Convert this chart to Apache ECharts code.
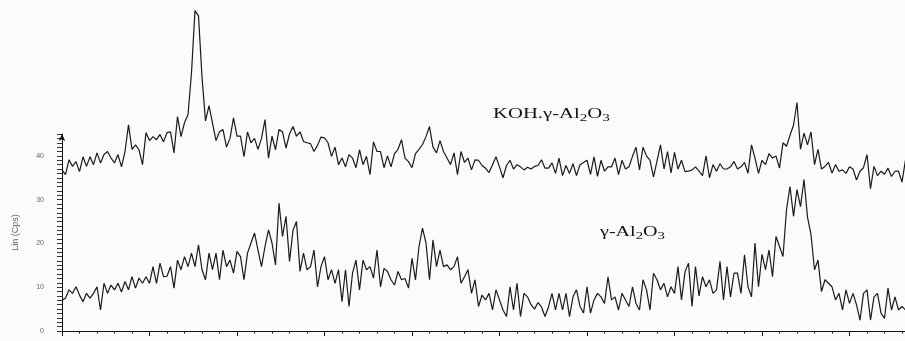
<!DOCTYPE html>
<html>
<head>
<meta charset="utf-8">
<title>XRD KOH.γ-Al2O3 / γ-Al2O3</title>
<script src="https://cdn.jsdelivr.net/npm/echarts/dist/echarts.min.js"></script>
<style>
  html, body { margin: 0; padding: 0; background: #fbfbfb; }
  #chart { width: 905px; height: 341px; }
</style>
</head>
<body>
<div id="chart"></div>
<script>
// 扫描参数: 2θ 起点与步长
const scanStart = 10
const scanStep = 0.2

// KOH.γ-Al2O3 强度 (Cps)
const kohAl2O3 = [
  36.8, 35.7, 39.1, 37.6, 38.7, 36.4, 39.8, 37.6, 39.8, 38.0,
  40.7, 38.4, 40.3, 41.0, 39.5, 38.4, 40.3, 37.5, 41.0, 47.1,
  41.5, 42.5, 41.4, 38.0, 45.3, 43.5, 44.4, 43.7, 44.9, 43.2,
  45.3, 45.5, 40.7, 49.0, 44.4, 47.6, 49.4, 59.0, 73.2, 72.0,
  58.0, 48.0, 51.5, 47.5, 43.5, 45.5, 46.0, 42.0, 44.0, 48.7,
  44.5, 44.5, 39.8, 45.5, 43.0, 44.0, 41.5, 44.0, 48.3, 39.5,
  44.5, 41.4, 46.0, 45.5, 41.8, 45.0, 46.7, 44.5, 45.5, 43.3,
  43.0, 42.8, 41.0, 42.4, 44.3, 44.1, 43.0, 39.9, 42.0, 38.0,
  39.5, 37.5, 40.3, 39.5, 37.3, 41.4, 38.0, 39.9, 35.7, 43.2,
  41.0, 41.0, 37.3, 40.0, 37.5, 40.5, 41.5, 43.7, 39.5, 38.7,
  37.3, 40.5, 41.5, 42.6, 44.4, 46.7, 42.0, 40.7, 43.5, 41.0,
  39.5, 38.0, 40.7, 35.7, 41.0, 38.5, 39.5, 36.8, 39.1, 39.0,
  37.8, 37.2, 36.2, 38.0, 39.8, 37.5, 35.0, 37.8, 39.0, 37.0,
  38.0, 37.5, 36.8, 37.4, 37.0, 37.6, 37.8, 39.1, 37.2, 37.2,
  38.4, 36.0, 39.5, 35.5, 37.8, 36.0, 38.2, 35.5, 38.0, 38.5,
  39.0, 35.8, 39.8, 35.3, 39.0, 36.5, 37.5, 37.5, 39.5, 35.7,
  39.0, 37.0, 37.5, 39.9, 42.0, 36.8, 42.0, 40.0, 39.0, 35.2,
  38.8, 42.5, 37.0, 41.0, 36.1, 40.8, 37.0, 39.0, 36.4, 36.5,
  36.8, 37.5, 36.5, 35.5, 40.0, 35.0, 38.0, 36.5, 38.2, 37.0,
  37.0, 37.5, 38.7, 37.0, 37.5, 38.5, 36.0, 42.5, 39.5, 36.0,
  39.0, 38.0, 40.5, 39.5, 40.0, 37.2, 43.0, 42.2, 44.7, 47.0,
  52.2, 41.5, 45.2, 42.5, 45.5, 38.0, 41.5, 37.0, 37.6, 38.5,
  36.1, 38.0, 36.5, 36.8, 36.0, 37.5, 37.0, 34.5, 36.5, 37.3,
  40.3, 32.5, 37.6, 35.5, 36.5, 35.8, 37.2, 35.3, 36.5, 36.5,
  34.0, 39.1
]

// γ-Al2O3 强度 (Cps)
const gammaAl2O3 = [
  7.0, 7.5, 9.4, 8.6, 10.1, 8.2, 6.7, 8.6, 7.5, 8.6,
  10.1, 4.8, 10.9, 8.6, 10.5, 9.4, 10.9, 8.9, 11.3, 9.4,
  12.4, 9.8, 12.1, 10.9, 12.4, 10.9, 14.7, 10.9, 15.5, 12.4,
  12.5, 14.7, 9.8, 16.2, 14.0, 17.0, 14.7, 17.8, 14.7, 19.7,
  14.0, 11.7, 17.8, 14.0, 17.8, 11.7, 18.5, 14.7, 16.2, 13.2,
  18.2, 17.0, 11.7, 17.8, 20.1, 22.4, 18.5, 14.7, 19.3, 23.1,
  20.1, 15.1, 29.2, 21.6, 26.2, 15.9, 23.0, 25.0, 13.6, 17.8,
  14.0, 14.7, 18.5, 10.1, 14.7, 17.0, 11.7, 14.0, 10.9, 14.0,
  6.7, 14.0, 5.6, 13.2, 16.2, 9.4, 16.2, 14.0, 14.7, 12.1,
  18.5, 10.1, 14.3, 13.6, 11.7, 10.5, 13.6, 11.7, 12.0, 9.8,
  16.6, 11.7, 19.3, 23.5, 20.1, 11.7, 20.8, 14.7, 18.5, 14.7,
  15.1, 14.0, 14.7, 17.0, 10.9, 12.4, 14.0, 8.6, 11.7, 5.6,
  8.2, 7.1, 8.6, 4.8, 9.4, 7.1, 4.8, 3.3, 10.1, 4.8,
  10.9, 3.3, 8.6, 7.8, 6.0, 5.0, 6.5, 5.5, 3.3, 5.5,
  8.6, 4.8, 8.6, 4.8, 8.6, 3.3, 7.8, 9.4, 5.6, 4.1,
  10.1, 4.1, 7.1, 8.6, 7.8, 6.3, 12.4, 7.1, 7.8, 4.8,
  8.6, 7.1, 5.6, 10.1, 6.3, 4.8, 11.7, 9.4, 4.8, 13.2,
  11.7, 9.4, 10.9, 7.8, 10.1, 8.6, 14.7, 7.1, 13.5, 15.5,
  5.6, 14.7, 8.0, 12.4, 10.1, 11.7, 8.6, 9.4, 15.9, 7.1,
  14.7, 7.8, 13.2, 13.2, 8.6, 17.4, 10.1, 7.8, 20.1, 10.1,
  17.5, 14.0, 18.5, 12.4, 21.6, 19.3, 17.0, 27.7, 33.0, 26.2,
  32.3, 28.4, 34.6, 26.0, 22.0, 14.0, 16.2, 9.0, 11.7, 10.9,
  10.1, 7.1, 8.6, 4.8, 9.4, 6.3, 8.6, 6.0, 2.5, 8.6,
  9.4, 2.5, 7.8, 8.6, 4.1, 2.9, 9.8, 4.8, 7.8, 4.8,
  5.6, 4.8
]

// y 轴刻度标签
const yTickLabels = [0, 10, 20, 30, 40]

const toPairs = arr => arr.map((v, i) => [+(scanStart + i * scanStep).toFixed(1), v])

const chart = echarts.init(document.getElementById('chart'))

const serifRich = {
  m: { fontFamily: 'Liberation Serif', fontSize: 15, lineHeight: 20, fill: '#111' },
  s: { fontFamily: 'Liberation Serif', fontSize: 11, lineHeight: 10, verticalAlign: 'bottom', fill: '#111' }
}

const option = {
  backgroundColor: '#fbfbfb',
  animation: false,
  // 绘图区向右延伸出画布, 使 2θ 轴每 5° 间距与原图一致
  grid: { left: 62, top: 134, width: 875, height: 197, outerBoundsMode: 'none', containLabel: false },
  xAxis: {
    type: 'value',
    min: 10,
    max: 60,
    interval: 5,
    axisLine: { lineStyle: { color: '#111', width: 1 } },
    axisTick: { length: 5, lineStyle: { color: '#111' } },
    minorTick: { show: true, splitNumber: 5, length: 2.5, lineStyle: { color: '#111' } },
    axisLabel: { show: false },
    splitLine: { show: false }
  },
  yAxis: {
    type: 'value',
    min: 0,
    max: 45,
    interval: 5,
    name: 'Lin (Cps)',
    nameLocation: 'middle',
    nameGap: 42,
    nameRotate: 90,
    nameTextStyle: { fontFamily: 'Liberation Sans', fontSize: 9, color: '#666' },
    axisLine: {
      show: true,
      symbol: ['none', 'arrow'],
      symbolSize: [5, 7],
      lineStyle: { color: '#111', width: 1 }
    },
    axisTick: { show: true, length: 5, lineStyle: { color: '#333' } },
    minorTick: { show: true, splitNumber: 5, length: 5, lineStyle: { color: '#333' } },
    axisLabel: {
      margin: 18,
      fontFamily: 'Liberation Sans',
      fontSize: 7,
      color: '#666',
      formatter: v => (yTickLabels.includes(v) ? String(v) : '')
    },
    splitLine: { show: false }
  },
  graphic: [
    {
      type: 'text',
      x: 493,
      y: 104,
      scaleX: 1.38,
      style: { text: '{m|KOH.γ-Al}{s|2}{m|O}{s|3}', rich: serifRich, verticalAlign: 'top', align: 'left' }
    },
    {
      type: 'text',
      x: 600,
      y: 222,
      scaleX: 1.34,
      style: { text: '{m|γ-Al}{s|2}{m|O}{s|3}', rich: serifRich, verticalAlign: 'top', align: 'left' }
    }
  ],
  series: [
    {
      name: 'KOH.γ-Al2O3',
      type: 'line',
      data: toPairs(kohAl2O3),
      showSymbol: false,
      symbol: 'none',
      clip: false,
      lineStyle: { color: '#1a1a1a', width: 1.2 }
    },
    {
      name: 'γ-Al2O3',
      type: 'line',
      data: toPairs(gammaAl2O3),
      showSymbol: false,
      symbol: 'none',
      clip: false,
      lineStyle: { color: '#1a1a1a', width: 1.2 }
    }
  ]
}

chart.setOption(option)
</script>
</body>
</html>
